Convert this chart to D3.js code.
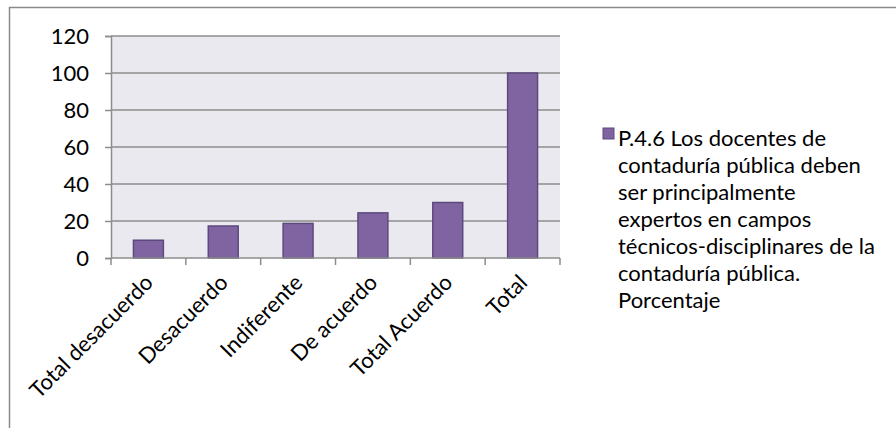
<!DOCTYPE html>
<html>
<head>
<meta charset="utf-8">
<script src="https://cdn.jsdelivr.net/npm/d3@7"></script>
<style>
  html, body { margin: 0; padding: 0; background: #fff; }
  svg { display: block; }
  text { font-family: Lato, "Open Sans", sans-serif; fill: #000; }
</style>
</head>
<body>
<svg id="chart" width="896" height="428"></svg>
<script>
// Survey answers (percent) for question P.4.6
const categories = ["Total desacuerdo", "Desacuerdo", "Indiferente", "De acuerdo", "Total Acuerdo", "Total"];
const values = [9.6, 17.3, 18.7, 24.4, 30.0, 100];
const yTicks = [0, 20, 40, 60, 80, 100, 120];
const legendLines = [
  "P.4.6 Los docentes de",
  "contaduría pública deben",
  "ser principalmente",
  "expertos en campos",
  "técnicos-disciplinares de la",
  "contaduría pública.",
  "Porcentaje"
];

const svg = d3.select("#chart");
const W = 896, H = 428;
const plot = { left: 111, right: 560, top: 36, bottom: 258 };
const fontSize = 22;

// Outer chart frame (right and bottom edges fall outside the view)
svg.append("path")
  .attr("d", `M9.5,${H + 2} V7.5 H${W + 2}`)
  .attr("fill", "none")
  .attr("stroke", "#8a8a8a")
  .attr("stroke-width", 1.5);

const x = d3.scaleBand()
  .domain(categories)
  .range([plot.left, plot.right])
  .paddingInner(0.6)
  .paddingOuter(0.3);

const y = d3.scaleLinear()
  .domain([0, 120])
  .range([plot.bottom, plot.top]);

// Plot area background
svg.append("rect")
  .attr("x", plot.left)
  .attr("y", plot.top)
  .attr("width", plot.right - plot.left)
  .attr("height", plot.bottom - plot.top)
  .attr("fill", "#ebe9f0");

// Horizontal gridlines
svg.append("g")
  .selectAll("line")
  .data(yTicks.filter(d => d > 0))
  .join("line")
  .attr("x1", plot.left)
  .attr("x2", plot.right)
  .attr("y1", d => y(d))
  .attr("y2", d => y(d))
  .attr("stroke", "#8c8c8c")
  .attr("stroke-width", 1.5);

// Y axis
const yAxis = svg.append("g")
  .attr("transform", `translate(${plot.left},0)`)
  .call(d3.axisLeft(y).tickValues(yTicks).tickSize(6).tickPadding(16));
yAxis.select(".domain").attr("stroke", "#8c8c8c").attr("stroke-width", 1.5);
yAxis.selectAll(".tick line").attr("stroke", "#8c8c8c").attr("stroke-width", 1.5);
yAxis.selectAll(".tick text")
  .attr("font-family", "Lato, sans-serif")
  .attr("font-size", fontSize)
  .attr("fill", "#000");

// Bars
svg.append("g")
  .selectAll("rect")
  .data(values)
  .join("rect")
  .attr("x", (d, i) => x(categories[i]))
  .attr("y", d => y(d))
  .attr("width", x.bandwidth())
  .attr("height", d => y(0) - y(d))
  .attr("fill", "#8064a2")
  .attr("stroke", "#5d4a7c")
  .attr("stroke-width", 1.5);

// X axis: ticks at category boundaries
const step = x.step();
const boundaries = d3.range(categories.length + 1).map(i => plot.left + i * step);
const xg = svg.append("g");
xg.append("line")
  .attr("x1", plot.left).attr("x2", plot.right)
  .attr("y1", plot.bottom).attr("y2", plot.bottom)
  .attr("stroke", "#8c8c8c").attr("stroke-width", 1.5);
xg.selectAll("line.tick")
  .data(boundaries)
  .join("line")
  .attr("class", "tick")
  .attr("x1", d => d).attr("x2", d => d)
  .attr("y1", plot.bottom).attr("y2", plot.bottom + 7)
  .attr("stroke", "#8c8c8c").attr("stroke-width", 1.5);

// Rotated category labels
xg.selectAll("text")
  .data(categories)
  .join("text")
  .attr("transform", d => `translate(${x(d) + x.bandwidth() / 2 + 6},${plot.bottom + 26}) rotate(-45)`)
  .attr("text-anchor", "end")
  .attr("font-size", fontSize)
  .text(d => d);

// Legend
const legend = svg.append("g").attr("transform", "translate(603,0)");
legend.append("rect")
  .attr("x", 0).attr("y", 128)
  .attr("width", 11).attr("height", 11)
  .attr("fill", "#8064a2")
  .attr("stroke", "#5d4a7c")
  .attr("stroke-width", 1);
legend.selectAll("text")
  .data(legendLines)
  .join("text")
  .attr("x", 15)
  .attr("y", (d, i) => 146 + i * 27)
  .attr("font-size", fontSize)
  .text(d => d);
</script>
</body>
</html>
